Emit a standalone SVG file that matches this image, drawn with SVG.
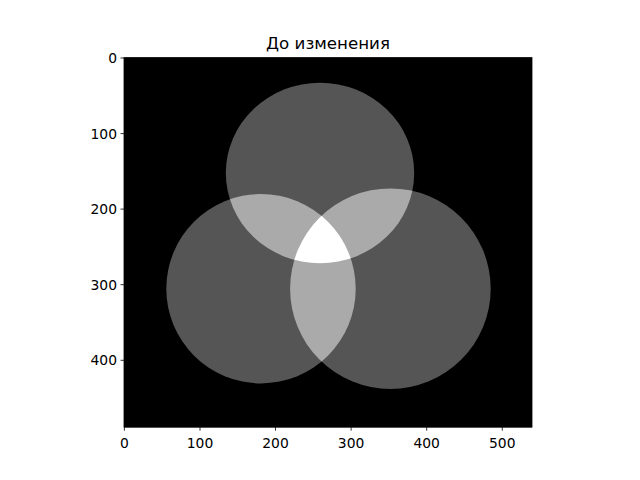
<svg xmlns="http://www.w3.org/2000/svg" width="640" height="480" viewBox="0 0 640 480">
<style>
.t{font-family:"DejaVu Sans",sans-serif;font-size:13.89px;fill:#000}
.tx{text-anchor:middle}
.ty{text-anchor:end}
.tick{stroke:#000;stroke-width:0.8}
</style>
<defs>
<clipPath id="cT"><ellipse cx="320" cy="173" rx="94.2" ry="90.3"/></clipPath>
<clipPath id="cL"><circle cx="261" cy="288.7" r="94.7"/></clipPath>
<clipPath id="cR"><circle cx="390.4" cy="288.7" r="100.3"/></clipPath>
</defs>
<rect width="640" height="480" fill="#fff"/>
<g id="image">
<rect x="124" y="57.6" width="408" height="369.6" fill="#000"/>
<g id="circles" fill="#555555">
<ellipse cx="320" cy="173" rx="94.2" ry="90.3"/>
<circle cx="261" cy="288.7" r="94.7"/>
<circle cx="390.4" cy="288.7" r="100.3"/>
</g>
<g id="pairs" fill="#aaaaaa">
<g clip-path="url(#cT)"><circle cx="261" cy="288.7" r="94.7"/><circle cx="390.4" cy="288.7" r="100.3"/></g>
<g clip-path="url(#cL)"><circle cx="390.4" cy="288.7" r="100.3"/></g>
</g>
<g id="triple" clip-path="url(#cT)"><g clip-path="url(#cL)"><circle cx="390.4" cy="288.7" r="100.3" fill="#fff"/></g></g>
</g>
<g id="axes">
<rect x="124" y="57.6" width="408" height="369.6" fill="none" stroke="#000" stroke-width="0.8"/>
<g class="tick">
<line x1="124.4" y1="427.2" x2="124.4" y2="430.7"/>
<line x1="200" y1="427.2" x2="200" y2="430.7"/>
<line x1="275.5" y1="427.2" x2="275.5" y2="430.7"/>
<line x1="351.1" y1="427.2" x2="351.1" y2="430.7"/>
<line x1="426.7" y1="427.2" x2="426.7" y2="430.7"/>
<line x1="502.3" y1="427.2" x2="502.3" y2="430.7"/>
<line x1="120.5" y1="58" x2="124" y2="58"/>
<line x1="120.5" y1="133.6" x2="124" y2="133.6"/>
<line x1="120.5" y1="209.1" x2="124" y2="209.1"/>
<line x1="120.5" y1="284.7" x2="124" y2="284.7"/>
<line x1="120.5" y1="360.3" x2="124" y2="360.3"/>
</g>
<g class="t tx">
<text x="124.4" y="448.3">0</text>
<text x="200" y="448.3">100</text>
<text x="275.5" y="448.3">200</text>
<text x="351.1" y="448.3">300</text>
<text x="426.7" y="448.3">400</text>
<text x="502.3" y="448.3">500</text>
</g>
<g class="t ty">
<text x="117" y="63">0</text>
<text x="117" y="138.6">100</text>
<text x="117" y="214.1">200</text>
<text x="117" y="289.7">300</text>
<text x="117" y="365.3">400</text>
</g>
<text x="328" y="49" font-family="DejaVu Sans, sans-serif" font-size="16.67" text-anchor="middle">До изменения</text>
</g>
</svg>
